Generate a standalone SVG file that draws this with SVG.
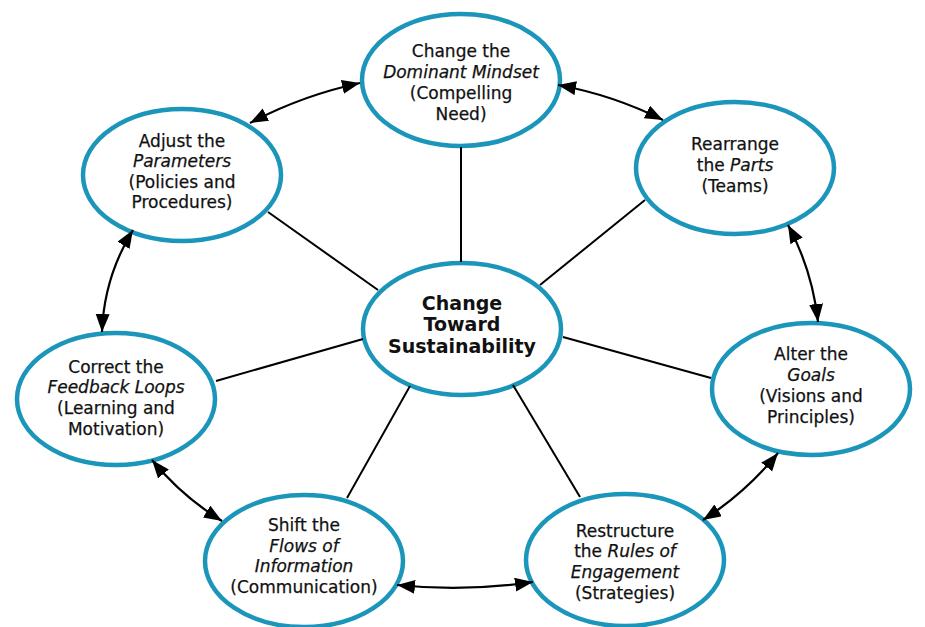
<svg xmlns="http://www.w3.org/2000/svg" width="925" height="627" viewBox="0 0 925 627">
<defs>
<style>
.node ellipse{fill:#fff;stroke:#1b95ba;stroke-width:4.5}
.node text{font-family:"DejaVu Sans","Liberation Sans",sans-serif;font-size:17px;fill:#111;stroke:#111;stroke-width:0.25;text-anchor:middle}
.it{font-style:italic}
.center text{font-size:19px;font-weight:bold;stroke-width:0}
.spoke{stroke:#000;stroke-width:2;fill:none}
.arc{stroke:#000;stroke-width:2.2;fill:none;marker-start:url(#ah);marker-end:url(#ah)}
</style>
<marker id="ah" markerUnits="userSpaceOnUse" markerWidth="20" markerHeight="16" refX="18" refY="7" orient="auto-start-reverse">
<path d="M0,0 L18,7 L0,14 z" fill="#000"/>
</marker>
</defs>
<rect width="925" height="627" fill="#fff"/>
<g id="n-top" class="node">
<ellipse cx="461" cy="80" rx="99" ry="66"/>
<text x="461" y="57">Change the</text>
<text x="461" y="78" class="it">Dominant Mindset</text>
<text x="461" y="99">(Compelling</text>
<text x="461" y="120">Need)</text>
</g>
<g id="n-center" class="node center">
<ellipse cx="462" cy="329" rx="99" ry="66"/>
<text x="462" y="309.5">Change</text>
<text x="462" y="331">Toward</text>
<text x="462" y="352.5">Sustainability</text>
</g>
<g id="n-params" class="node">
<ellipse cx="182" cy="175" rx="99" ry="66"/>
<text x="182" y="147">Adjust the</text>
<text x="182" y="167" class="it">Parameters</text>
<text x="182" y="188">(Policies and</text>
<text x="182" y="208">Procedures)</text>
</g>
<g id="n-parts" class="node">
<ellipse cx="735" cy="168" rx="99" ry="66"/>
<text x="735" y="150">Rearrange</text>
<text x="735" y="171">the <tspan class="it">Parts</tspan></text>
<text x="735" y="192">(Teams)</text>
</g>
<g id="n-feedback" class="node">
<ellipse cx="116" cy="399" rx="99" ry="66"/>
<text x="116" y="373">Correct the</text>
<text x="116" y="393" class="it">Feedback Loops</text>
<text x="116" y="414">(Learning and</text>
<text x="116" y="435">Motivation)</text>
</g>
<g id="n-goals" class="node">
<ellipse cx="811" cy="389" rx="99" ry="66"/>
<text x="811" y="360">Alter the</text>
<text x="811" y="381" class="it">Goals</text>
<text x="811" y="402">(Visions and</text>
<text x="811" y="423">Principles)</text>
</g>
<g id="n-flows" class="node">
<ellipse cx="304" cy="561" rx="99" ry="66"/>
<text x="304" y="531">Shift the</text>
<text x="304" y="552" class="it">Flows of</text>
<text x="304" y="572" class="it">Information</text>
<text x="304" y="593">(Communication)</text>
</g>
<g id="n-rules" class="node">
<ellipse cx="625" cy="560" rx="99" ry="66"/>
<text x="625" y="537">Restructure</text>
<text x="625" y="557">the <tspan class="it">Rules of</tspan></text>
<text x="625" y="578" class="it">Engagement</text>
<text x="625" y="599">(Strategies)</text>
</g>
<g id="connectors">
<line class="spoke" x1="461" y1="147" x2="461" y2="262"/>
<line class="spoke" x1="268" y1="212" x2="378" y2="290"/>
<line class="spoke" x1="645" y1="200" x2="540" y2="285"/>
<line class="spoke" x1="216" y1="381" x2="363" y2="339"/>
<line class="spoke" x1="563" y1="337" x2="711" y2="378"/>
<line class="spoke" x1="410" y1="386" x2="347" y2="498"/>
<line class="spoke" x1="513" y1="385" x2="580" y2="497"/>
<path class="arc" d="M250,123 Q302,95.5 360,83"/>
<path class="arc" d="M558,85 Q613,95 663,120"/>
<path class="arc" d="M788,225 Q812.5,270.5 818,322"/>
<path class="arc" d="M778,453 Q746,492.5 703,520"/>
<path class="arc" d="M533,582 Q465,592 397,585"/>
<path class="arc" d="M222,521 Q182,496.5 152,460"/>
<path class="arc" d="M133,230 Q104,277 102,332"/>
</g>
</svg>
